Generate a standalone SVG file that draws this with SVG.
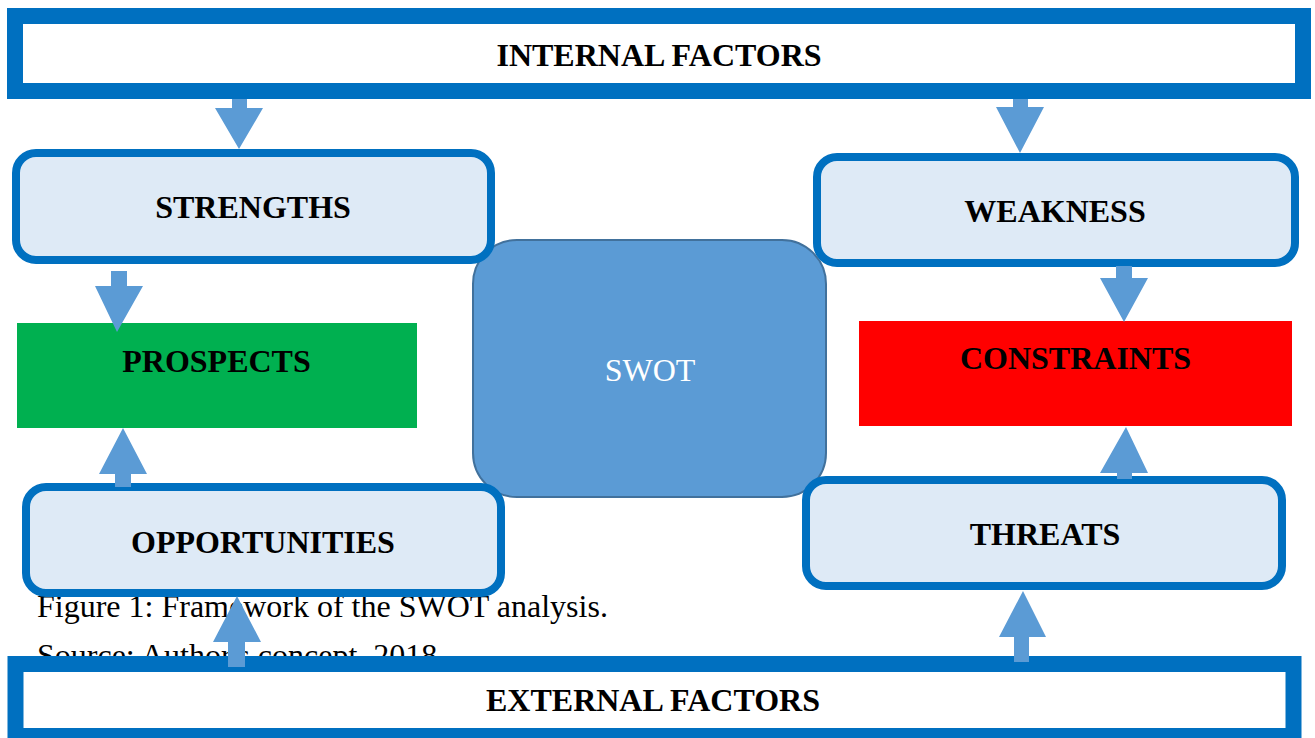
<svg xmlns="http://www.w3.org/2000/svg" width="1315" height="738" viewBox="0 0 1315 738">
<style>
.frame{fill:#ffffff;stroke:#0070C0;stroke-width:16}
.box{fill:#DEEAF6;stroke:#0070C0;stroke-width:8}
.lbl{font-family:"Liberation Serif","Times New Roman",serif;font-weight:bold;font-size:32px;fill:#000;text-anchor:middle}
.cap{font-family:"Liberation Serif","Times New Roman",serif;font-size:32px;fill:#000}
.arr{fill:#5B9BD5}
</style>
<rect width="1315" height="738" fill="#ffffff"/>
<g id="caption">
<text class="cap" x="37" y="617">Figure 1: Framework of the SWOT analysis.</text>
<text class="cap" x="37" y="666">Source: Author's concept, 2018</text>
</g>
<g id="swot">
<rect x="473" y="240" width="353" height="257" rx="44" fill="#5B9BD5" stroke="#41719C" stroke-width="2"/>
<text x="650" y="381" font-family="'Liberation Serif','Times New Roman',serif" font-size="32" fill="#ffffff" text-anchor="middle">SWOT</text>
</g>
<g id="internal">
<rect class="frame" x="15" y="16" width="1288" height="75"/>
<text class="lbl" x="659" y="66">INTERNAL FACTORS</text>
</g>
<g id="external">
<rect class="frame" x="15.5" y="664" width="1278" height="72"/>
<text class="lbl" x="653" y="711">EXTERNAL FACTORS</text>
</g>
<g id="strengths">
<rect class="box" x="16" y="153" width="475" height="107" rx="20"/>
<text class="lbl" x="253" y="218">STRENGTHS</text>
</g>
<g id="weakness">
<rect class="box" x="817" y="157" width="478" height="106" rx="20"/>
<text class="lbl" x="1055" y="222">WEAKNESS</text>
</g>
<g id="opportunities">
<rect class="box" x="26" y="487" width="475" height="106" rx="20"/>
<text class="lbl" x="263" y="553">OPPORTUNITIES</text>
</g>
<g id="threats">
<rect class="box" x="806" y="480" width="476" height="106" rx="20"/>
<text class="lbl" x="1045" y="545">THREATS</text>
</g>
<g id="prospects">
<rect x="17" y="323" width="400" height="105" fill="#00B050"/>
<text class="lbl" x="216.5" y="372">PROSPECTS</text>
</g>
<g id="constraints">
<rect x="859" y="321" width="433" height="105" fill="#FF0000"/>
<text class="lbl" x="1075.5" y="369">CONSTRAINTS</text>
</g>
<g id="connectors">
<polygon class="arr" points="232,99 247,99 247,108 263,108 239,149 215,108 232,108"/>
<polygon class="arr" points="1013,99 1028,99 1028,107 1044,107 1020,153 996,107 1013,107"/>
<polygon class="arr" points="111,271 127,271 127,286 143,286 117,332 95,286 111,286"/>
<polygon class="arr" points="115,487 131,487 131,474 147,474 123,428 99,474 115,474"/>
<polygon class="arr" points="228,667 245,667 245,642 261,642 237,596 213,642 228,642"/>
<polygon class="arr" points="1116,266 1132,266 1132,278 1148,278 1124,322 1100,278 1116,278"/>
<polygon class="arr" points="1117,479 1132,479 1132,473 1148,473 1126,427 1100,473 1117,473"/>
<polygon class="arr" points="1014,662 1029,662 1029,637 1046,637 1023,591 999,637 1014,637"/>
</g>
</svg>
